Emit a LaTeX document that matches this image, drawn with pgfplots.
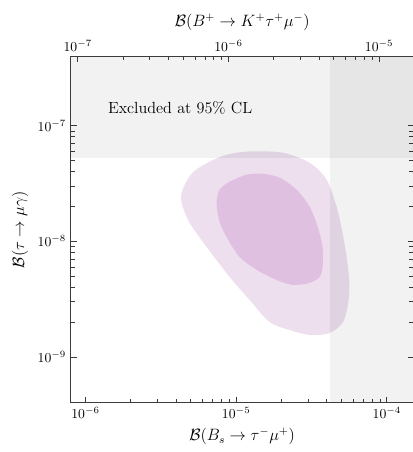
\documentclass[border=0pt]{standalone}
\usepackage{pgfplots}
\pgfplotsset{compat=1.18}
\definecolor{outerc}{RGB}{237,223,238}
\definecolor{innerc}{RGB}{224,192,224}
\definecolor{axc}{RGB}{60,60,60}
\begin{document}
\begin{tikzpicture}
\begin{axis}[
  name=ax,
  scale only axis, width=250pt, height=253.3pt,
  xmode=log, ymode=log,
  xmin=8e-7, xmax=1.5e-4, ymin=4e-10, ymax=4e-7,
  xtick pos=lower, xticklabel pos=lower,
  ytick pos=both, yticklabel pos=left,
  tick align=inside,
  axis line style={axc, line width=0.7pt},
  every tick/.style={axc, line width=0.6pt},
  xlabel={$\mathcal{B}(B_s\to\tau^-\mu^+)$},
  ylabel={$\mathcal{B}(\tau\to\mu\gamma)$},
  label style={font=\fontsize{11.5}{14}\selectfont},
  xtick={1e-6,1e-5,1e-4}, ytick={1e-9,1e-8,1e-7},
]
\addplot[fill=outerc, draw=none, smooth cycle] coordinates {
(1.226e-5,5.99e-8) (2.03e-5,5.84e-8) (3.07e-5,4.78e-8) (3.98e-5,3.41e-8)
(4.64e-5,1.99e-8) (5.08e-5,1.185e-8) (5.48e-5,6.51e-9) (5.65e-5,4.04e-9)
(5.48e-5,2.71e-9) (5.08e-5,1.97e-9) (4.17e-5,1.61e-9) (3.07e-5,1.55e-9)
(2.26e-5,1.71e-9) (1.66e-5,2.01e-9) (1.226e-5,3.12e-9) (9.03e-6,4.93e-9)
(6.36e-6,8.96e-9) (4.90e-6,1.45e-8) (4.34e-6,2.15e-8) (4.40e-6,2.79e-8)
(5.13e-6,3.92e-8) (6.66e-6,4.88e-8) (8.63e-6,5.61e-8)
};
\addplot[fill=innerc, draw=none, smooth cycle] coordinates {
(7.41e-6,2.15e-8) (7.75e-6,2.79e-8) (9.03e-6,3.27e-8) (1.171e-5,3.77e-8)
(1.50e-5,3.84e-8) (1.94e-5,3.55e-8) (2.52e-5,2.79e-8) (3.07e-5,1.99e-8)
(3.47e-5,1.34e-8) (3.74e-5,8.96e-9) (3.74e-5,6.02e-9) (3.58e-5,4.93e-9)
(3.07e-5,4.37e-9) (2.37e-5,4.20e-9) (1.85e-5,4.64e-9) (1.37e-5,5.66e-9)
(1.052e-5,7.34e-9) (8.63e-6,1.09e-8) (7.75e-6,1.48e-8)
};
\addplot[fill=black, fill opacity=0.05, draw=none] coordinates {
(4.2e-5,3e-10) (2e-4,3e-10) (2e-4,5e-7) (4.2e-5,5e-7)} -- cycle;
\addplot[fill=black, fill opacity=0.05, draw=none] coordinates {
(7e-7,5.25e-8) (2e-4,5.25e-8) (2e-4,5e-7) (7e-7,5e-7)} -- cycle;
\node[anchor=west, font=\fontsize{11.8}{14}\selectfont] at (axis cs:1.31e-6,1.43e-7) {Excluded at 95\% CL};
\end{axis}
\begin{axis}[
  scale only axis, width=250pt, height=253.3pt,
  xmode=log, ymode=log,
  xmin=9e-8, xmax=1.6875e-5, ymin=4e-10, ymax=4e-7,
  xtick pos=upper, xticklabel pos=upper,
  ytick=\empty,
  tick align=inside,
  axis line style={axc, line width=0.7pt},
  every tick/.style={axc, line width=0.6pt},
  xlabel={$\mathcal{B}(B^+\to K^+\tau^+\mu^-)$},
  label style={font=\fontsize{11.5}{14}\selectfont},
  xtick={1e-7,1e-6,1e-5},
]
\end{axis}
\pgfresetboundingbox
\path[use as bounding box] ([shift={(-51.8pt,-35.8pt)}]ax.south west) rectangle ([shift={(-0.4pt,40.9pt)}]ax.north east);
\end{tikzpicture}
\end{document}
